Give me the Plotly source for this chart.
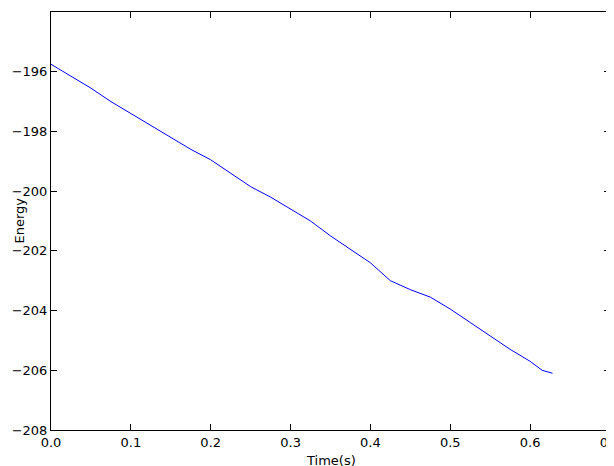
import plotly.graph_objects as go

time_s = [0.0, 0.01, 0.025, 0.05, 0.075, 0.1, 0.125, 0.15, 0.175, 0.2, 0.225, 0.25, 0.275,
          0.3, 0.325, 0.35, 0.375, 0.4, 0.425, 0.45, 0.475, 0.5, 0.525, 0.55, 0.575, 0.6, 0.615, 0.628]
energy = [-195.75, -195.9, -196.15, -196.55, -197.0, -197.4, -197.8, -198.2, -198.6, -198.95,
          -199.4, -199.85, -200.2, -200.6, -201.0, -201.5, -201.95, -202.4, -203.0, -203.3,
          -203.55, -203.95, -204.4, -204.85, -205.3, -205.7, -206.0, -206.1]

x_ticks = [0.0, 0.1, 0.2, 0.3, 0.4, 0.5, 0.6, 0.7]
y_ticks = [-208, -206, -204, -202, -200, -198, -196, -194]

fig = go.Figure(go.Scatter(x=time_s, y=energy, mode="lines", line=dict(color="#0000ff", width=1)))
ax = dict(showgrid=False, zeroline=False, showline=True, linecolor="black", linewidth=1,
          mirror="ticks", ticks="inside", ticklen=6, tickcolor="black", automargin=False)
fig.update_layout(
    width=614, height=466, margin=dict(l=43, r=12, t=4, b=44, autoexpand=False),
    plot_bgcolor="white", paper_bgcolor="white", showlegend=False,
    font=dict(family="DejaVu Sans", size=13, color="black"),
    xaxis=dict(range=[0, 0.7], tickvals=x_ticks, tickformat=".1f", **ax),
    yaxis=dict(range=[-208, -194], tickvals=y_ticks, **ax),
    annotations=[
        dict(text="Time(s)", xref="paper", yref="paper", x=0.5, y=0, yshift=-21,
             showarrow=False, yanchor="top", font=dict(size=13)),
        dict(text="Energy", xref="paper", yref="paper", x=0, y=0.5, xshift=-42,
             showarrow=False, textangle=-90, xanchor="left", font=dict(size=13)),
    ],
)
fig.write_html("out.html")
